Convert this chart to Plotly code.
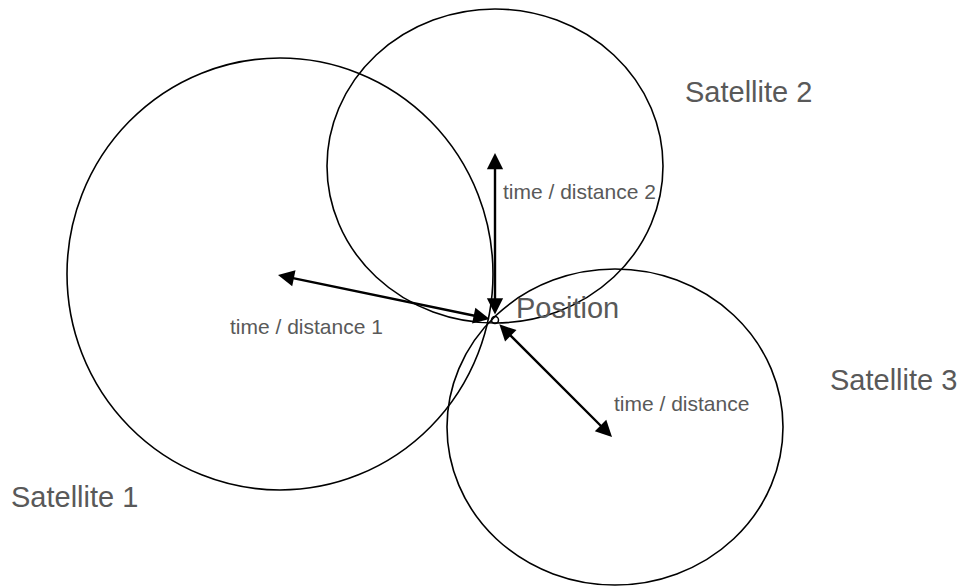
import plotly.graph_objects as go

# Satellite circles (pixel-space diagram coordinates)
sat_names = ["Satellite 1", "Satellite 2", "Satellite 3"]
sat_cx = [280, 495, 615]
sat_cy = [274, 166, 427]
sat_rx = [213, 168, 168]
sat_ry = [216, 157, 158]

# Receiver position
pos_label = "Position"
pos_x = [495]
pos_y = [320]

# Arrow tips (near satellite centres)
tip_x = [278, 495, 612]
tip_y = [275, 153, 437]

# Labels
sat_label_x = [9, 683, 828]
sat_label_y = [497, 92, 380]
dist_labels = ["time / distance 1", "time / distance 2", "time / distance"]
dist_label_x = [228, 501, 612]
dist_label_y = [326, 191, 403]
pos_label_x = [514]
pos_label_y = [308]

W, H = 957, 586
GRAY = "#595959"
FONT = "Liberation Sans, Arial, sans-serif"

fig = go.Figure()

shapes = []
for cx, cy, rx, ry in zip(sat_cx, sat_cy, sat_rx, sat_ry):
    shapes.append(dict(type="circle", xref="x", yref="y",
                       x0=cx - rx, x1=cx + rx, y0=cy - ry, y1=cy + ry,
                       line=dict(color="black", width=1.6)))

annotations = []
for tx, ty in zip(tip_x, tip_y):
    annotations.append(dict(x=tx, y=ty, ax=pos_x[0], ay=pos_y[0],
                            xref="x", yref="y", axref="x", ayref="y",
                            text="", showarrow=True, arrowhead=2, startarrowhead=2,
                            arrowside="end+start", arrowwidth=2.4, arrowsize=1.35,
                            startarrowsize=1.35, arrowcolor="black",
                            standoff=0, startstandoff=4))

for name, x, y in zip(sat_names, sat_label_x, sat_label_y):
    annotations.append(dict(x=x, y=y, xref="x", yref="y", text=name, showarrow=False,
                            xanchor="left", yanchor="middle",
                            font=dict(family=FONT, size=29, color=GRAY)))
for name, x, y in zip(dist_labels, dist_label_x, dist_label_y):
    annotations.append(dict(x=x, y=y, xref="x", yref="y", text=name, showarrow=False,
                            xanchor="left", yanchor="middle",
                            font=dict(family=FONT, size=21, color=GRAY)))
annotations.append(dict(x=pos_label_x[0], y=pos_label_y[0], xref="x", yref="y",
                        text=pos_label, showarrow=False, xanchor="left", yanchor="middle",
                        font=dict(family=FONT, size=29, color=GRAY)))

fig.add_trace(go.Scatter(x=pos_x, y=pos_y, mode="markers",
                         marker=dict(size=7, color="white",
                                     line=dict(color="black", width=1.5)),
                         hoverinfo="skip", showlegend=False))

fig.update_layout(
    width=W, height=H,
    margin=dict(l=0, r=0, t=0, b=0),
    paper_bgcolor="white", plot_bgcolor="white",
    shapes=shapes, annotations=annotations,
    xaxis=dict(range=[0, W], visible=False, fixedrange=True),
    yaxis=dict(range=[H, 0], visible=False, fixedrange=True),
    showlegend=False,
)

fig.write_html("out.html", config={"displayModeBar": False},
               post_script="document.body.style.margin='0';document.body.style.overflow='hidden';")
